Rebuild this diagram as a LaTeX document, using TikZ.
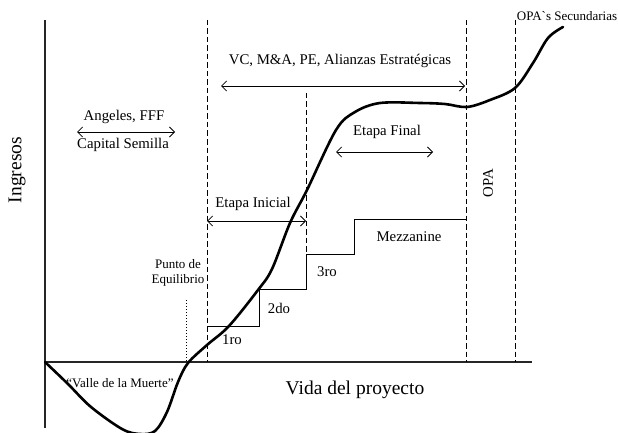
\documentclass[tikz,border=0pt]{standalone}
\usepackage{fontspec}
\setmainfont{Liberation Serif}
\usetikzlibrary{
  	arrows.meta,
  	positioning,
  	calc
  }
\tikzstyle{eje}=[line width=1.1pt, black!85]
\tikzstyle{guia}=[dash pattern=on 5.5pt off 3pt, line width=0.9pt]
\tikzstyle{flecha}=[{Straight Barb[length=5pt,width=10pt]}-{Straight Barb[length=5pt,width=10pt]}, line width=0.8pt]
\tikzstyle{escalon}=[line width=0.8pt]
\tikzstyle{curva}=[line width=2.6pt, line join=round, line cap=round]
\tikzstyle{etiq}=[font=\fontsize{14.8}{16}\selectfont, inner sep=0pt]
\tikzstyle{chica}=[font=\fontsize{13}{15}\selectfont, inner sep=0pt, align=center]
\tikzstyle{grande}=[font=\fontsize{19.5}{22}\selectfont, inner sep=0pt]

\begin{document}
\begin{tikzpicture}[x=1pt,y=-1pt]
\useasboundingbox (0,0) rectangle (618,433);
% ejes
\coordinate (o) at (45,362);
\coordinate (ytop) at (45,20);
\coordinate (ybot) at (45,428);
\coordinate (xend) at (532,362);
\draw[eje] (ytop) -- (ybot);
\draw[eje] (o) -- (xend);
\node[grande, rotate=90] (ingresos) at (17,170) {Ingresos};
\node[grande] (vida) at (355,390) {Vida del proyecto};
% lineas guia
\coordinate (g1t) at (207,20);  \coordinate (g1b) at (207,362);
\coordinate (g2t) at (306,93);  \coordinate (g2b) at (306,254);
\coordinate (g3t) at (466,20);  \coordinate (g3b) at (466,362);
\coordinate (g4t) at (515,20);  \coordinate (g4b) at (515,362);
\draw[guia] (g1t) -- (g1b);
\draw[guia] (g2t) -- (g2b);
\draw[guia] (g3t) -- (g3b);
\draw[guia] (g4t) -- (g4b);
% escalones
\draw[escalon] (207,326) -| (259,289) -| (306,254) -| (354,219) -- (466,219);
\node[etiq] (ro1) at (232,340) {1ro};
\node[etiq] (do2) at (279,308) {2do};
\node[etiq] (ro3) at (327,272) {3ro};
\node[etiq] (mezz) at (409,237) {Mezzanine};
% flechas
\coordinate (angL) at (77,132);   \coordinate (angR) at (175,132);
\coordinate (vcL) at (221,86);    \coordinate (vcR) at (465,86);
\coordinate (finL) at (336,152);  \coordinate (finR) at (433,152);
\coordinate (iniL) at (207,221);  \coordinate (iniR) at (306,221);
\draw[flecha] (angL) -- (angR);
\draw[flecha] (vcL) -- (vcR);
\draw[flecha] (finL) -- (finR);
\draw[flecha] (iniL) -- (iniR);
\node[etiq] (angeles) at (124,117) {Angeles, FFF};
\node[etiq] (semilla) at (123,145) {Capital Semilla};
\node[etiq] (vc) at (340,61) {VC, M\&A, PE, Alianzas Estratégicas};
\node[etiq] (final) at (387,132) {Etapa Final};
\node[etiq] (inicial) at (253,204) {Etapa Inicial};
\node[etiq, rotate=90] (opa) at (488,183) {OPA};
\node[chica] (opasec) at (567,16) {OPA\textasciigrave s Secundarias};
% punto de equilibrio
\coordinate (eqT) at (186,300);
\coordinate (eqB) at (186,362);
\draw[dotted, line width=1pt] (eqT) -- (eqB);
\node[chica] (equilibrio) at (178,273) {Punto de\\Equilibrio};
\node[chica] (valle) at (120,383) {“Valle de la Muerte”};
% curva
\draw[curva] plot[smooth, tension=0.55] coordinates {
  (45,362) (68,384) (91,407) (122,429) (140,434) (155,431) (167,412)
  (178,382) (188,363) (207,345) (229,326) (258,290) (272,269)
  (290,223) (307,190) (336,130) (355,112) (380,103) (420,103)
  (445,104) (467,107) (490,100) (515,88) (533,63) (548,38) (563,27)};
\end{tikzpicture}
\end{document}
